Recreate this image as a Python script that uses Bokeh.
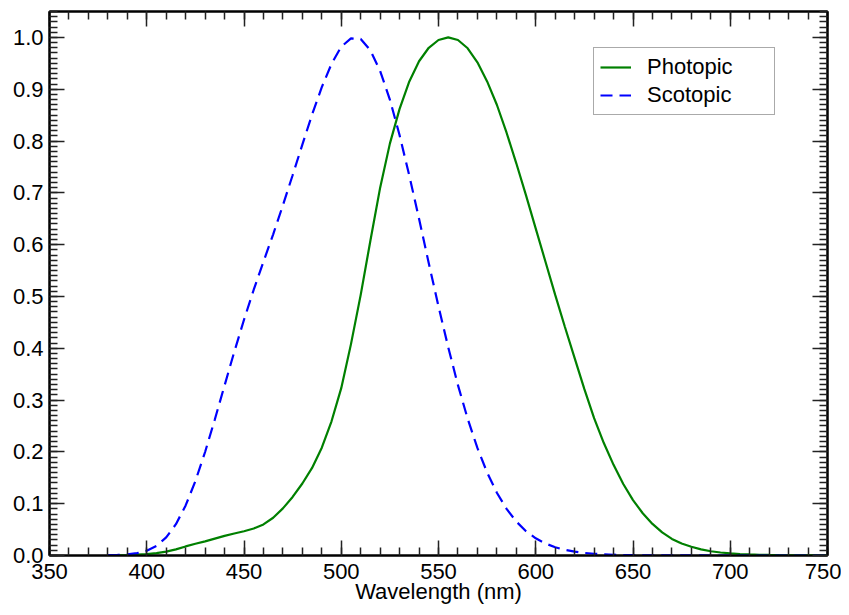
from bokeh.plotting import figure
from bokeh.models import (Range1d, LinearAxis, SingleIntervalTicker, PrintfTickFormatter,
                          CustomJSTickFormatter, Legend, LegendItem, ColumnDataSource)
from bokeh.embed import file_html
from bokeh.resources import INLINE

# Wavelength grid (nm)
wavelength = [380, 385, 390, 395, 400, 405, 410, 415, 420, 425, 430, 435, 440, 445, 450,
              455, 460, 465, 470, 475, 480, 485, 490, 495, 500, 505, 510, 515, 520, 525,
              530, 535, 540, 545, 550, 555, 560, 565, 570, 575, 580, 585, 590, 595, 600,
              605, 610, 615, 620, 625, 630, 635, 640, 645, 650, 655, 660, 665, 670, 675,
              680, 685, 690, 695, 700, 705, 710, 715, 720, 725, 730, 735, 740, 745, 750]

# Photopic luminous efficiency (normalised)
photopic = [0.0002, 0.0004, 0.0008, 0.00155, 0.0028, 0.00466, 0.0074, 0.0118, 0.0175, 0.0227,
            0.0273, 0.0326, 0.0379, 0.0424, 0.0468, 0.0521, 0.0600, 0.0729, 0.0910, 0.113,
            0.139, 0.169, 0.208, 0.259, 0.323, 0.408, 0.503, 0.608, 0.710, 0.795,
            0.862, 0.915, 0.954, 0.980, 0.995, 1.000, 0.995, 0.979, 0.952, 0.915,
            0.870, 0.816, 0.757, 0.695, 0.631, 0.567, 0.503, 0.441, 0.381, 0.321,
            0.265, 0.217, 0.175, 0.138, 0.107, 0.0816, 0.0610, 0.0446, 0.0320, 0.0232,
            0.0170, 0.0119, 0.00821, 0.00577, 0.0041, 0.00293, 0.00209, 0.00148, 0.00105, 0.00074,
            0.00052, 0.000361, 0.000249, 0.000172, 0.00012]

# Scotopic luminous efficiency (normalised)
scotopic = [0.000589, 0.001108, 0.002209, 0.00453, 0.00929, 0.01852, 0.03484, 0.0604, 0.0966, 0.1436,
            0.1998, 0.2625, 0.3281, 0.3931, 0.455, 0.513, 0.567, 0.620, 0.676, 0.734,
            0.793, 0.851, 0.904, 0.949, 0.982, 0.998, 0.997, 0.975, 0.935, 0.880,
            0.811, 0.733, 0.650, 0.564, 0.481, 0.402, 0.3288, 0.2639, 0.2076, 0.1602,
            0.1212, 0.0899, 0.0655, 0.0469, 0.03315, 0.02312, 0.01593, 0.01088, 0.00737, 0.00497,
            0.003335, 0.002235, 0.001497, 0.001005, 0.000677, 0.000459, 0.0003129, 0.0002146, 0.000148, 0.0001026,
            0.0000715, 0.0000501, 0.0000353, 0.000025, 0.0000178, 0.0000127, 0.0000091, 0.0000066, 0.0000048, 0.0000035,
            0.0000025, 0.0000019, 0.0000014, 0.0000010, 0.00000076]

series_names = ["Photopic", "Scotopic"]

FONT = "Liberation Sans"
FS = "22px"

p = figure(frame_width=778, frame_height=544,
           x_range=Range1d(350, 750), y_range=Range1d(0, 1.05),
           output_backend="svg", toolbar_location=None,
           min_border_left=49, min_border_top=11, min_border_right=14, min_border_bottom=10,
           x_axis_location=None, y_axis_location=None)
p.xgrid.visible = False
p.ygrid.visible = False
p.outline_line_color = "black"
p.outline_line_width = 2
p.background_fill_color = "white"
p.border_fill_color = "white"

blank = CustomJSTickFormatter(code="return ''")

def style_axis(ax, show_labels):
    ax.axis_line_color = "black"
    ax.axis_line_width = 2
    ax.major_tick_in = 15
    ax.major_tick_out = 0
    ax.minor_tick_in = 8
    ax.minor_tick_out = 0
    ax.major_tick_line_color = "#222222"
    ax.major_tick_line_width = 1.5
    ax.minor_tick_line_color = "#222222"
    ax.minor_tick_line_width = 1.5
    if show_labels:
        ax.major_label_text_font = FONT
        ax.major_label_text_font_size = FS
        ax.major_label_text_color = "black"
        ax.major_label_standoff = 8
    else:
        ax.formatter = blank
        ax.major_label_standoff = 0

xb = LinearAxis(ticker=SingleIntervalTicker(interval=50, num_minor_ticks=5))
style_axis(xb, True)
xb.axis_label = "Wavelength (nm)"
xb.axis_label_text_font = FONT
xb.axis_label_text_font_size = FS
xb.axis_label_text_font_style = "normal"
xb.axis_label_text_color = "black"
xb.axis_label_standoff = -3
p.add_layout(xb, "below")

xt = LinearAxis(ticker=SingleIntervalTicker(interval=50, num_minor_ticks=5))
style_axis(xt, False)
p.add_layout(xt, "above")

yl = LinearAxis(ticker=SingleIntervalTicker(interval=0.1, num_minor_ticks=10),
                formatter=PrintfTickFormatter(format="%.1f"))
style_axis(yl, True)
yl.major_label_standoff = 6
p.add_layout(yl, "left")

yr = LinearAxis(ticker=SingleIntervalTicker(interval=0.1, num_minor_ticks=10))
style_axis(yr, False)
p.add_layout(yr, "right")

src = ColumnDataSource(dict(wl=wavelength, phot=photopic, scot=scotopic))
r1 = p.line("wl", "phot", source=src, line_color="#008000", line_width=2.2)
r2 = p.line("wl", "scot", source=src, line_color="#0000ff", line_width=2.2, line_dash="12 7")

legend = Legend(items=[LegendItem(label=series_names[0], renderers=[r1]),
                       LegendItem(label=series_names[1], renderers=[r2])],
                location=(544, 440), margin=0, padding=6, spacing=2,
                glyph_width=31, glyph_height=20, label_height=26, label_width=121,
                label_standoff=16,
                label_text_font=FONT, label_text_font_size=FS, label_text_color="black",
                border_line_color="#555555", border_line_width=1.5,
                background_fill_color="white", background_fill_alpha=1.0)
p.add_layout(legend, "center")

open("out.html", "w").write(file_html(p, INLINE))
